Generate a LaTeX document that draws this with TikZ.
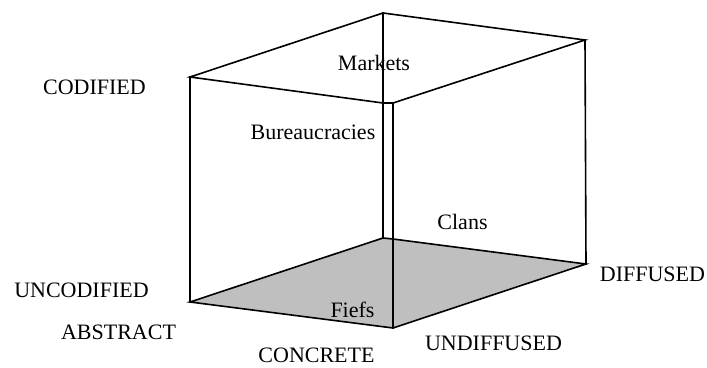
\documentclass[tikz,border=0pt]{standalone}
\usepackage{fontspec}
\setmainfont{Liberation Serif}
\definecolor{floorgray}{RGB}{191,191,191}
\begin{document}
\begin{tikzpicture}[x=1pt,y=-1pt,
  edge/.style={line width=1.6pt,line join=miter,line cap=rect},
  lbl/.style={anchor=base,inner sep=0pt,font=\fontsize{22}{24}\selectfont}]
\useasboundingbox (0,0) rectangle (707,367);

% vertices of the box (top face, then bottom face)
\coordinate (TL)  at (190,77);
\coordinate (TB)  at (383,13);
\coordinate (TR)  at (585,40);
\coordinate (TF1) at (383,103);
\coordinate (TF2) at (393,103);
\coordinate (BL)  at (190,302);
\coordinate (BB1) at (383,238);
\coordinate (BB2) at (393,239);
\coordinate (BR)  at (586,264);
\coordinate (BF)  at (393,328);

% shaded floor
\fill[floorgray] (BL) -- (BB1) -- (BB2) -- (BR) -- (BF) -- cycle;

% labels
\node[lbl] (codified)   at (94.5,94.5)  {CODIFIED};
\node[lbl] (uncodified) at (81.5,297.5) {UNCODIFIED};
\node[lbl] (abstract)   at (118.5,339.5){ABSTRACT};
\node[lbl] (concrete)   at (316.5,362.5){CONCRETE};
\node[lbl] (undiffused) at (493.5,350.5){UNDIFFUSED};
\node[lbl] (diffused)   at (652.5,281)  {DIFFUSED};
\node[lbl] (markets)    at (374,70)     {Markets};
\node[lbl] (bureau)     at (313,139.5)  {Bureaucracies};
\node[lbl] (clans)      at (462.5,229.5){Clans};
\node[lbl] (fiefs)      at (352.5,317.5){Fiefs};

% top face
\draw[edge] (TL) -- (TB) -- (TR) -- (TF2) -- (TF1) -- cycle;
% bottom face
\draw[edge] (BL) -- (BB1) -- (BB2) -- (BR) -- (BF) -- cycle;
% vertical edges
\draw[edge] (TL) -- (BL);
\draw[edge] (TB) -- (BB1);
\draw[edge] (TF2) -- (BF);
\draw[edge] (TR) -- (BR);
\end{tikzpicture}
\end{document}
